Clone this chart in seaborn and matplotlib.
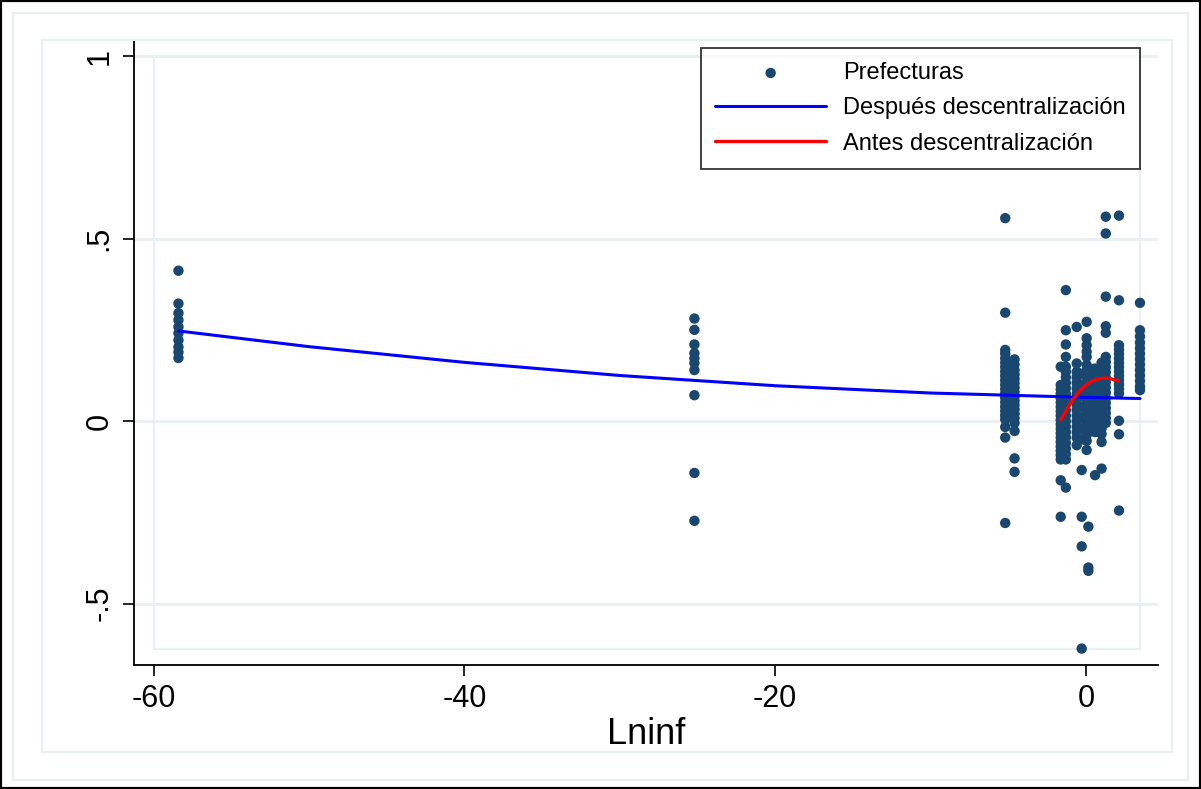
import numpy as np
import pandas as pd
import matplotlib.pyplot as plt
import seaborn as sns
from matplotlib.patches import Rectangle

# --- data ---
# x position of each column of prefectures and the y values stacked in it
col_x = [-58.4, -25.2, -5.2, -4.6, -1.63, -1.3, -0.6, -0.28, 0.04, 0.15, 0.58, 1.0, 1.27, 2.12, 3.47]
col_y = [
    [0.412, 0.322, 0.296, 0.277, 0.258, 0.241, 0.222, 0.203, 0.189, 0.173],
    [0.281, 0.250, 0.210, 0.186, 0.172, 0.159, 0.140, 0.071, -0.142, -0.273],
    [0.556, 0.297, 0.195, 0.185, 0.172, 0.160, 0.148, 0.136, 0.124, 0.112, 0.100, 0.088,
     0.076, 0.064, 0.052, 0.040, 0.028, 0.016, 0.005, -0.016, -0.045, -0.279],
    [0.169, 0.155, 0.140, 0.128, 0.116, 0.104, 0.092, 0.080, 0.068, 0.056, 0.044, 0.032,
     0.020, 0.008, -0.005, -0.027, -0.102, -0.139],
    [0.149, 0.099, 0.087, 0.075, 0.063, 0.051, 0.039, 0.027, 0.015, 0.003, -0.009, -0.021,
     -0.033, -0.045, -0.057, -0.069, -0.081, -0.093, -0.105, -0.162, -0.262],
    [0.359, 0.249, 0.210, 0.176, 0.149, 0.135, 0.120, 0.105, 0.090, 0.075, 0.060, 0.045,
     0.030, 0.015, 0.000, -0.015, -0.030, -0.045, -0.060, -0.075, -0.090, -0.105, -0.182],
    [0.258, 0.158, 0.135, 0.120, 0.105, 0.090, 0.075, 0.060, 0.045, 0.030, 0.015, 0.000,
     -0.015, -0.030, -0.045, -0.066],
    [0.130, 0.100, 0.070, 0.040, 0.010, -0.020, -0.050, -0.134, -0.262, -0.343, -0.623],
    [0.272, 0.227, 0.208, 0.190, 0.176, 0.154, 0.138, 0.122, 0.106, 0.090, 0.074, 0.058,
     0.042, 0.026, 0.010, -0.006, -0.022, -0.038, -0.054, -0.079],
    [0.120, 0.080, 0.040, 0.000, -0.030, -0.289, -0.401, -0.410],
    [0.144, 0.128, 0.112, 0.096, 0.080, 0.064, 0.048, 0.032, 0.016, 0.000, -0.016, -0.030, -0.148],
    [0.160, 0.145, 0.130, 0.115, 0.100, 0.085, 0.070, 0.055, 0.040, 0.025, 0.010, -0.005,
     -0.020, -0.035, -0.057, -0.130],
    [0.560, 0.514, 0.341, 0.260, 0.242, 0.176, 0.162, 0.148, 0.134, 0.120, 0.106, 0.092,
     0.078, 0.064, 0.050, 0.036, 0.022, 0.008, -0.005],
    [0.563, 0.331, 0.208, 0.196, 0.184, 0.172, 0.160, 0.148, 0.136, 0.124, 0.112, 0.100,
     0.088, 0.076, 0.001, -0.036, -0.245],
    [0.324, 0.249, 0.232, 0.215, 0.200, 0.185, 0.170, 0.155, 0.140, 0.125, 0.110, 0.095, 0.085],
]

# fitted curves
after_x = [-58.4, -50, -40, -30, -20, -10, 0, 3.47]
after_y = [0.247, 0.204, 0.161, 0.125, 0.097, 0.077, 0.065, 0.062]
before_x = [-1.63, -1.2, -0.8, -0.4, 0.0, 0.4, 0.8, 1.2, 1.6, 2.08]
before_y = [0.004, 0.035, 0.062, 0.083, 0.099, 0.110, 0.116, 0.118, 0.116, 0.110]

x_ticks = [-60, -40, -20, 0]
y_ticks = [-0.5, 0, 0.5, 1]
y_labels = ['-.5', '0', '.5', '1']

pts = pd.DataFrame({
    'Lninf': np.repeat(col_x, [len(c) for c in col_y]),
    'dif': np.concatenate(col_y),
})

sns.set_style('white')
plt.rcParams['font.family'] = ['Liberation Sans', 'DejaVu Sans']
plt.rcParams['axes.unicode_minus'] = False

navy = '#1a476f'
grid_c = '#e9f0f1'

fig = plt.figure(figsize=(12.01, 7.89), dpi=100)
ax = fig.add_axes([134 / 1201, 1 - 665 / 789, (1158 - 134) / 1201, (665 - 40) / 789])

# graph-region outlines and outer frame (Stata look)
fig.patches.append(Rectangle((13 / 1201, 1 - 780 / 789), (1188 - 13) / 1201, (780 - 13) / 789,
                             transform=fig.transFigure, fill=False, ec=grid_c, lw=1.5))
fig.patches.append(Rectangle((42 / 1201, 1 - 752 / 789), (1172 - 42) / 1201, (752 - 40) / 789,
                             transform=fig.transFigure, fill=False, ec=grid_c, lw=1.5))
fig.patches.append(Rectangle((0, 0), 1, 1, transform=fig.transFigure, fill=False, ec='black', lw=3))

sns.scatterplot(data=pts, x='Lninf', y='dif', color=navy, s=56, edgecolor='none',
                label='Prefecturas', ax=ax, zorder=3)
sns.lineplot(x=after_x, y=after_y, color='#0000ff', lw=2.2, sort=False,
             label='Después descentralización', ax=ax, zorder=4)
sns.lineplot(x=before_x, y=before_y, color='#ff0000', lw=2.4, sort=False,
             label='Antes descentralización', ax=ax, zorder=5)

# plot-region box spanning the data / tick range
x0 = min(x_ticks[0], pts['Lninf'].min())
x1 = pts['Lninf'].max()
y0 = pts['dif'].min()
y1 = max(y_ticks[-1], pts['dif'].max())
ax.add_patch(Rectangle((x0, y0), x1 - x0, y1 - y0, fill=False, ec=grid_c, lw=1.5, zorder=1))

ax.set_xlim(-61.26, 4.63)
ax.set_ylim(-0.668, 1.044)
ax.set_xticks(x_ticks)
ax.set_yticks(y_ticks)
ax.set_yticklabels(y_labels, rotation=90, va='center')
ax.yaxis.grid(True, color=grid_c, lw=2)
ax.set_axisbelow(True)

for s in ['top', 'right']:
    ax.spines[s].set_visible(False)
for s in ['left', 'bottom']:
    ax.spines[s].set_color('black')
    ax.spines[s].set_linewidth(1.3)

ax.tick_params(axis='both', direction='out', length=8, width=1.2, colors='black',
               labelcolor='black', labelsize=22, pad=6, left=True, bottom=True)
ax.set_xlabel('Lninf', fontsize=26, labelpad=2, color='black')
ax.set_ylabel('')

leg = ax.legend(loc='upper left', bbox_to_anchor=((701 - 134) / 1024, (665 - 48) / 625),
                borderaxespad=0, frameon=True, fancybox=False, edgecolor='black',
                fontsize=17, handlelength=4.7, handletextpad=0.72, labelspacing=0.56,
                markerscale=1.0, borderpad=0.6, scatterpoints=1)
leg.get_frame().set_linewidth(1.3)
for t in leg.get_texts():
    t.set_color('black')
leg.set_zorder(10)

fig.savefig('out.png', dpi=100)
